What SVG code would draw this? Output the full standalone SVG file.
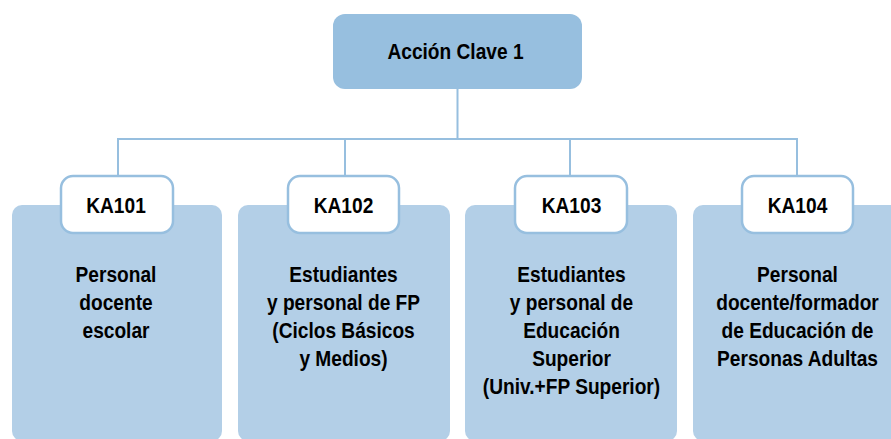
<svg xmlns="http://www.w3.org/2000/svg" width="891" height="439" viewBox="0 0 891 439">
<style>
.t{font-family:"Liberation Sans",Arial,sans-serif;font-weight:bold;font-size:22px;fill:#000;text-anchor:middle}
.body{fill:#b3cfe7}
.lab{fill:#fff;stroke:#97bfdf;stroke-width:2.5}
.conn{fill:none;stroke:#97bfdf;stroke-width:2}
</style>
<rect width="891" height="439" fill="#fff"/>
<g id="connectors">
<path class="conn" d="M457.5 89V139M118 176V139H797V176M345 139V176M570 139V176"/>
</g>
<g id="root">
<rect x="333" y="14" width="249" height="75" rx="12" fill="#97bfdf"/>
<g transform="translate(455.5 0) scale(0.87 1)"><text class="t" x="0" y="59">Acción Clave 1</text></g>
</g>
<g id="ka101">
<rect class="body" x="12" y="205" width="210" height="236" rx="10"/>
<rect class="lab" x="61" y="176" width="112" height="57" rx="12"/>
<g transform="translate(116 0) scale(0.87 1)">
<text class="t" x="0" y="213">KA101</text>
<text class="t" x="0" y="282">Personal</text>
<text class="t" x="0" y="310">docente</text>
<text class="t" x="0" y="338">escolar</text>
</g>
</g>
<g id="ka102">
<rect class="body" x="238" y="205" width="212" height="236" rx="10"/>
<rect class="lab" x="288" y="176" width="111" height="57" rx="12"/>
<g transform="translate(343.5 0) scale(0.87 1)">
<text class="t" x="0" y="213">KA102</text>
<text class="t" x="0" y="282">Estudiantes</text>
<text class="t" x="0" y="310">y personal de FP</text>
<text class="t" x="0" y="338">(Ciclos Básicos</text>
<text class="t" x="0" y="366">y Medios)</text>
</g>
</g>
<g id="ka103">
<rect class="body" x="465" y="205" width="212" height="236" rx="10"/>
<rect class="lab" x="515" y="176" width="112" height="57" rx="12"/>
<g transform="translate(571.5 0) scale(0.87 1)">
<text class="t" x="0" y="213">KA103</text>
<text class="t" x="0" y="282">Estudiantes</text>
<text class="t" x="0" y="310">y personal de</text>
<text class="t" x="0" y="338">Educación</text>
<text class="t" x="0" y="366">Superior</text>
<text class="t" x="0" y="394">(Univ.+FP Superior)</text>
</g>
</g>
<g id="ka104">
<rect class="body" x="693" y="205" width="212" height="236" rx="10"/>
<rect class="lab" x="742" y="176" width="111" height="57" rx="12"/>
<g transform="translate(797.5 0) scale(0.87 1)">
<text class="t" x="0" y="213">KA104</text>
<text class="t" x="0" y="282">Personal</text>
<text class="t" x="0" y="310">docente/formador</text>
<text class="t" x="0" y="338">de Educación de</text>
<text class="t" x="0" y="366">Personas Adultas</text>
</g>
</g>
</svg>
